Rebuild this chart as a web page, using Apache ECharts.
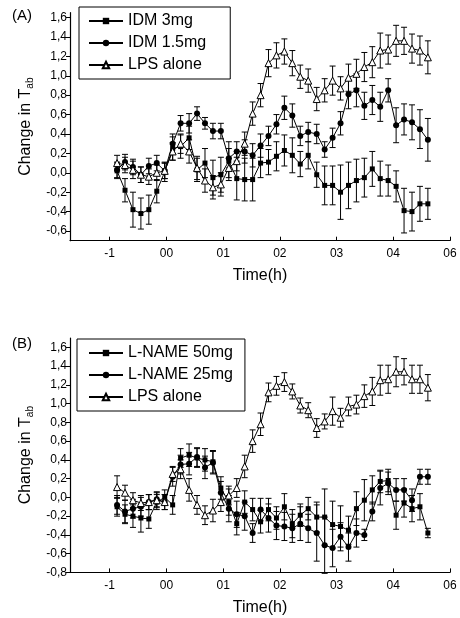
<!DOCTYPE html>
<html>
<head>
<meta charset="utf-8">
<script src="https://cdn.jsdelivr.net/npm/echarts@6/dist/echarts.min.js"></script>
<style>html,body{margin:0;padding:0;background:#fff}#c{width:460px;height:618px}</style>
</head>
<body>
<div id="c"></div>
<script>
// time points (h)
const times = [-0.87,-0.73,-0.59,-0.45,-0.31,-0.17,-0.03,0.11,0.25,0.40,0.54,0.68,0.82,0.96,1.10,1.24,1.38,1.52,1.66,1.80,1.94,2.08,2.22,2.36,2.50,2.65,2.79,2.93,3.07,3.21,3.35,3.49,3.63,3.77,3.91,4.05,4.19,4.33,4.47,4.61];

// Panel A
const idm3 = [0.02,-0.18,-0.38,-0.42,-0.38,-0.19,0.01,0.25,0.27,0.36,0.03,0.10,-0.05,-0.02,0.12,-0.06,-0.07,-0.07,0.10,0.11,0.17,0.23,0.18,0.09,0.18,-0.02,-0.13,-0.13,-0.20,-0.13,-0.08,-0.05,0.04,-0.06,-0.08,-0.14,-0.39,-0.40,-0.32,-0.32];
const idm3Err = [0.08,0.12,0.18,0.16,0.15,0.12,0.10,0.12,0.12,0.12,0.12,0.15,0.18,0.18,0.20,0.22,0.22,0.22,0.15,0.13,0.15,0.16,0.18,0.13,0.14,0.13,0.20,0.20,0.28,0.24,0.22,0.20,0.18,0.18,0.16,0.16,0.23,0.20,0.18,0.16];
const idm15 = [0.03,0.11,0.06,-0.02,0.07,0.10,0.02,0.30,0.51,0.51,0.61,0.51,0.43,0.43,0.15,0.22,0.22,0.18,0.28,0.38,0.50,0.67,0.59,0.38,0.42,0.40,0.24,0.36,0.51,0.81,0.85,0.69,0.75,0.68,0.85,0.49,0.55,0.52,0.45,0.34];
const idm15Err = [0.08,0.08,0.08,0.08,0.08,0.08,0.08,0.10,0.08,0.10,0.07,0.06,0.08,0.08,0.10,0.10,0.12,0.12,0.12,0.10,0.10,0.12,0.12,0.10,0.10,0.10,0.08,0.10,0.12,0.15,0.17,0.14,0.15,0.15,0.12,0.18,0.16,0.18,0.20,0.22];
const lpsA = [0.10,0.08,0.03,-0.02,-0.04,0.00,0.02,0.22,0.30,0.22,0.05,-0.08,-0.15,-0.12,0.05,0.12,0.30,0.61,0.80,1.13,1.21,1.25,1.13,0.99,0.95,0.76,0.85,0.95,0.87,0.98,1.02,1.09,1.14,1.26,1.27,1.36,1.36,1.28,1.26,1.19];
const lpsAErr = [0.08,0.08,0.09,0.08,0.08,0.08,0.08,0.09,0.10,0.12,0.12,0.12,0.12,0.12,0.10,0.10,0.12,0.12,0.12,0.14,0.13,0.13,0.13,0.12,0.12,0.12,0.12,0.15,0.12,0.14,0.15,0.15,0.16,0.18,0.15,0.16,0.14,0.15,0.15,0.17];

// Panel B
const lname50 = [-0.10,-0.18,-0.20,-0.22,-0.23,-0.05,0.00,-0.08,0.42,0.45,0.42,0.40,0.38,0.10,-0.05,-0.28,-0.05,-0.13,-0.26,-0.13,-0.22,-0.10,-0.28,-0.19,-0.12,-0.21,-0.21,-0.29,-0.31,-0.35,-0.12,-0.03,0.08,0.17,0.18,-0.19,-0.06,-0.12,-0.10,-0.38];
const lname50Err = [0.10,0.10,0.12,0.15,0.10,0.08,0.08,0.10,0.10,0.12,0.10,0.12,0.12,0.12,0.14,0.12,0.12,0.12,0.12,0.12,0.12,0.14,0.15,0.12,0.12,0.16,0.30,0.25,0.22,0.15,0.18,0.22,0.15,0.12,0.12,0.15,0.15,0.14,0.14,0.05];
const lname25 = [-0.08,-0.15,-0.12,-0.10,-0.05,-0.02,-0.05,0.22,0.35,0.36,0.43,0.32,0.37,0.05,-0.12,-0.18,-0.20,-0.38,-0.13,-0.22,-0.30,-0.31,-0.33,-0.28,-0.33,-0.38,-0.51,-0.54,-0.42,-0.53,-0.38,-0.40,-0.15,0.10,0.15,0.08,0.08,-0.03,0.22,0.22];
const lname25Err = [0.10,0.12,0.10,0.10,0.08,0.08,0.08,0.10,0.10,0.12,0.10,0.12,0.12,0.12,0.14,0.14,0.15,0.10,0.12,0.15,0.15,0.15,0.15,0.18,0.15,0.30,0.30,0.20,0.15,0.15,0.15,0.06,0.10,0.18,0.12,0.12,0.12,0.12,0.08,0.08];
const lpsB = [0.11,0.05,-0.03,-0.06,-0.05,-0.03,-0.05,0.25,0.30,0.08,-0.08,-0.19,-0.14,-0.05,0.02,0.10,0.33,0.60,0.78,1.12,1.19,1.23,1.13,0.98,0.93,0.74,0.81,0.92,0.85,0.97,0.99,1.08,1.13,1.25,1.26,1.34,1.34,1.26,1.26,1.17];
const lpsBErr = [0.12,0.08,0.08,0.08,0.08,0.08,0.08,0.08,0.10,0.12,0.10,0.10,0.12,0.10,0.10,0.10,0.12,0.12,0.12,0.10,0.10,0.10,0.08,0.08,0.08,0.10,0.08,0.15,0.10,0.10,0.10,0.12,0.15,0.16,0.15,0.16,0.14,0.15,0.15,0.14];

// ticks
const xTickValues = [-1,0,1,2,3,4,5];
const xTickLabels = ['-1','00','01','02','03','04','06'];
const yTicksA = [-0.6,-0.4,-0.2,0.0,0.2,0.4,0.6,0.8,1.0,1.2,1.4,1.6];
const yTicksB = [-0.8,-0.6,-0.4,-0.2,0.0,0.2,0.4,0.6,0.8,1.0,1.2,1.4,1.6];

const FONT = '"Liberation Sans", Arial, sans-serif';

function pts(v){ return times.map((t,i)=>[t, v[i]]); }
function errs(v,e){ return times.map((t,i)=>[t, v[i]-e[i], v[i]+e[i]]); }

function errRender(params, api){
  const x = api.value(0), lo = api.value(1), hi = api.value(2);
  const p1 = api.coord([x, hi]), p2 = api.coord([x, lo]);
  const w = 3;
  const st = {stroke:'#000', lineWidth:1};
  return {type:'group', children:[
    {type:'line', shape:{x1:p1[0], y1:p1[1], x2:p2[0], y2:p2[1]}, style:st},
    {type:'line', shape:{x1:p1[0]-w, y1:p1[1], x2:p1[0]+w, y2:p1[1]}, style:st},
    {type:'line', shape:{x1:p2[0]-w, y1:p2[1], x2:p2[0]+w, y2:p2[1]}, style:st}
  ]};
}

function xAx(gi){
  return {
    type:'value', gridIndex:gi, min:-1.7, max:5,
    name:'Time(h)', nameLocation:'middle', nameGap:27,
    nameTextStyle:{fontFamily:FONT, fontSize:16, color:'#000'},
    axisLine:{show:true, onZero:false, lineStyle:{color:'#000', width:1.2}},
    axisTick:{show:true, inside:true, length:4, customValues:xTickValues, lineStyle:{color:'#000'}},
    axisLabel:{show:true, customValues:xTickValues, margin:7, fontFamily:FONT, fontSize:12, color:'#000',
      formatter:(v)=>{ const k = xTickValues.indexOf(Math.round(v)); return k>=0 ? xTickLabels[k] : ''; }},
    splitLine:{show:false}
  };
}
function yAx(gi, mn, mx, ticks){
  return {
    type:'value', gridIndex:gi, min:mn, max:mx,
    name:'Change in T{s|ab}', nameLocation:'middle', nameGap:34,
    nameTextStyle:{fontFamily:FONT, fontSize:16, color:'#000', lineHeight:20,
      rich:{s:{fontFamily:FONT, fontSize:10, color:'#000', verticalAlign:'bottom', lineHeight:12}}},
    axisLine:{show:true, onZero:false, lineStyle:{color:'#000', width:1.2}},
    axisTick:{show:true, inside:false, length:4, customValues:ticks, lineStyle:{color:'#000'}},
    axisLabel:{show:true, customValues:ticks, margin:3, fontFamily:FONT, fontSize:12, color:'#000',
      formatter:(v)=> (Math.abs(v)<1e-9 ? 0 : v).toFixed(1).replace('.', ',')},
    splitLine:{show:false}
  };
}

function lineSeries(name, gi, data, symbol, size, open){
  return {
    name:name, type:'line', xAxisIndex:gi, yAxisIndex:gi, data:pts(data),
    symbol:symbol, symbolSize:size, showSymbol:true, z:3, animation:false,
    lineStyle:{color:'#000', width:1},
    itemStyle:{color: open ? '#fff' : '#000', borderColor:'#000', borderWidth: open ? 1 : 0}
  };
}
function errSeries(gi, v, e){
  return {type:'custom', xAxisIndex:gi, yAxisIndex:gi, data:errs(v,e), renderItem:errRender,
    encode:{x:0, y:[1,2]}, z:2, animation:false, silent:true};
}

const chart = echarts.init(document.getElementById('c'), null, {renderer:'canvas'});
chart.setOption({
  backgroundColor:'#fff',
  animation:false,
  grid:[
    {left:70, width:380, top:12.7, height:228},
    {left:70, width:380, top:338, height:234.4}
  ],
  xAxis:[xAx(0), xAx(1)],
  yAxis:[yAx(0,-0.7,1.65,yTicksA), yAx(1,-0.8,1.7,yTicksB)],
  legend:[
    {data:['IDM 3mg','IDM 1.5mg','LPS alone'], orient:'vertical', left:79, top:7,
     padding:[6,24,6,9], itemGap:6, itemWidth:34, itemHeight:8, itemTextGap:5,
     borderColor:'#000', borderWidth:1, backgroundColor:'#fff',
     textStyle:{fontFamily:FONT, fontSize:16, color:'#000', lineHeight:15}},
    {data:['L-NAME 50mg','L-NAME 25mg','LPS alone'], orient:'vertical', left:77, top:339,
     padding:[6,12,6,11], itemGap:6, itemWidth:34, itemHeight:8, itemTextGap:5,
     borderColor:'#000', borderWidth:1, backgroundColor:'#fff',
     textStyle:{fontFamily:FONT, fontSize:16, color:'#000', lineHeight:15}}
  ],
  graphic:[
    {type:'text', left:12, top:8, style:{text:'(A)', font:'15px '+FONT, fill:'#000'}},
    {type:'text', left:12, top:336, style:{text:'(B)', font:'15px '+FONT, fill:'#000'}}
  ],
  series:[
    errSeries(0, idm3, idm3Err),
    errSeries(0, idm15, idm15Err),
    errSeries(0, lpsA, lpsAErr),
    lineSeries('IDM 3mg', 0, idm3, 'rect', 5, false),
    lineSeries('IDM 1.5mg', 0, idm15, 'circle', 6, false),
    lineSeries('LPS alone', 0, lpsA, 'triangle', 7, true),
    errSeries(1, lname50, lname50Err),
    errSeries(1, lname25, lname25Err),
    errSeries(1, lpsB, lpsBErr),
    lineSeries('L-NAME 50mg', 1, lname50, 'rect', 5, false),
    lineSeries('L-NAME 25mg', 1, lname25, 'circle', 6, false),
    lineSeries('LPS alone', 1, lpsB, 'triangle', 7, true)
  ]
});
</script>
</body>
</html>
